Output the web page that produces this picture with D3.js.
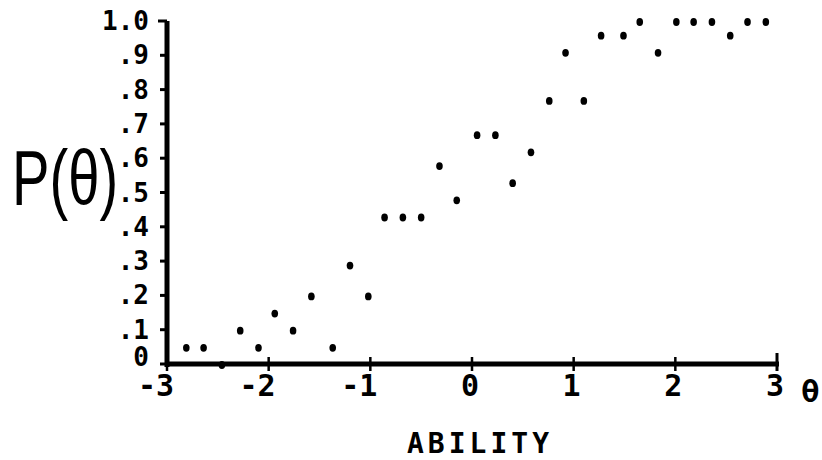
<!DOCTYPE html>
<html>
<head>
<meta charset="utf-8">
<script src="https://cdn.jsdelivr.net/npm/d3@7/dist/d3.min.js"></script>
<style>
  html, body { margin: 0; padding: 0; background: #fff; }
  svg { display: block; }
  .mono { font-family: "DejaVu Sans Mono", "Liberation Mono", monospace; font-weight: bold; fill: #000; }
</style>
</head>
<body>
<svg width="822" height="460"></svg>
<script>
// ability (theta) values and observed proportion correct
const theta = [-2.81, -2.64, -2.46, -2.28, -2.10, -1.94, -1.76, -1.58, -1.37, -1.20, -1.02,
  -0.86, -0.68, -0.50, -0.32, -0.15, 0.05, 0.23, 0.40, 0.58, 0.76, 0.92, 1.10,
  1.27, 1.49, 1.65, 1.83, 2.01, 2.18, 2.36, 2.54, 2.71, 2.89];
const prob = [0.05, 0.05, 0.0, 0.1, 0.05, 0.15, 0.1, 0.2, 0.05, 0.29, 0.2,
  0.43, 0.43, 0.43, 0.58, 0.48, 0.67, 0.67, 0.53, 0.62, 0.77, 0.91, 0.77,
  0.96, 0.96, 1.0, 0.91, 1.0, 1.0, 1.0, 0.96, 1.0, 1.0];

const xTicks = [-3, -2, -1, 0, 1, 2, 3];
const yTicks = [0, 0.1, 0.2, 0.3, 0.4, 0.5, 0.6, 0.7, 0.8, 0.9, 1.0];
const yTickLabels = ["0", ".1", ".2", ".3", ".4", ".5", ".6", ".7", ".8", ".9", "1.0"];

const svg = d3.select("svg");

const x = d3.scaleLinear().domain([-3, 3]).range([167, 777]);
const y = d3.scaleLinear().domain([0, 1]).range([364, 21]);

const g = svg.append("g");

// y axis line + ticks
g.append("line")
  .attr("x1", x(-3)).attr("x2", x(-3))
  .attr("y1", y(1)).attr("y2", y(0) + 3)
  .attr("stroke", "#000").attr("stroke-width", 5);

g.append("g").selectAll("line")
  .data(yTicks)
  .join("line")
  .attr("x1", d => d === 1 ? x(-3) - 9 : x(-3) - 7)
  .attr("x2", x(-3))
  .attr("y1", d => y(d))
  .attr("y2", d => y(d))
  .attr("stroke", "#000")
  .attr("stroke-width", 3);

g.append("g").selectAll("text")
  .data(yTicks)
  .join("text")
  .attr("class", "mono")
  .attr("x", 149)
  .attr("y", d => y(d) + (d === 0 ? 2 : 9))
  .attr("text-anchor", "end")
  .attr("font-size", 26)
  .text((d, i) => yTickLabels[i]);

// x axis line + ticks
g.append("line")
  .attr("x1", x(-3) - 2).attr("x2", x(3) + 2)
  .attr("y1", y(0)).attr("y2", y(0))
  .attr("stroke", "#000").attr("stroke-width", 5);

g.append("g").selectAll("line")
  .data(xTicks)
  .join("line")
  .attr("x1", d => x(d))
  .attr("x2", d => x(d))
  .attr("y1", d => d === 3 ? y(0) - 11 : y(0) - 7)
  .attr("y2", d => y(0) + 7)
  .attr("stroke", "#000")
  .attr("stroke-width", d => d === 3 ? 3 : 2.5);

g.append("g").selectAll("text")
  .data(xTicks)
  .join("text")
  .attr("class", "mono")
  .attr("x", d => x(d) + 7)
  .attr("y", 396)
  .attr("text-anchor", "end")
  .attr("font-size", 30)
  .text(d => d < 0 ? "-" + Math.abs(d) : String(d));

// points
g.append("g").selectAll("ellipse")
  .data(theta)
  .join("ellipse")
  .attr("cx", d => x(d))
  .attr("cy", (d, i) => y(prob[i]) + 1)
  .attr("rx", 3.3)
  .attr("ry", 3.9)
  .attr("fill", "#000");

// axis titles
svg.append("text")
  .attr("transform", "translate(12,205) scale(0.72,1)")
  .attr("font-family", "Liberation Sans, Arial, sans-serif")
  .attr("font-size", 78)
  .attr("fill", "#000")
  .text("P(θ)");

svg.append("text")
  .attr("class", "mono")
  .attr("x", 801)
  .attr("y", 402)
  .attr("font-size", 31)
  .text("θ");

svg.append("text")
  .attr("class", "mono")
  .attr("x", 480)
  .attr("y", 453)
  .attr("text-anchor", "middle")
  .attr("font-size", 28)
  .attr("letter-spacing", 4)
  .text("ABILITY");
</script>
</body>
</html>
